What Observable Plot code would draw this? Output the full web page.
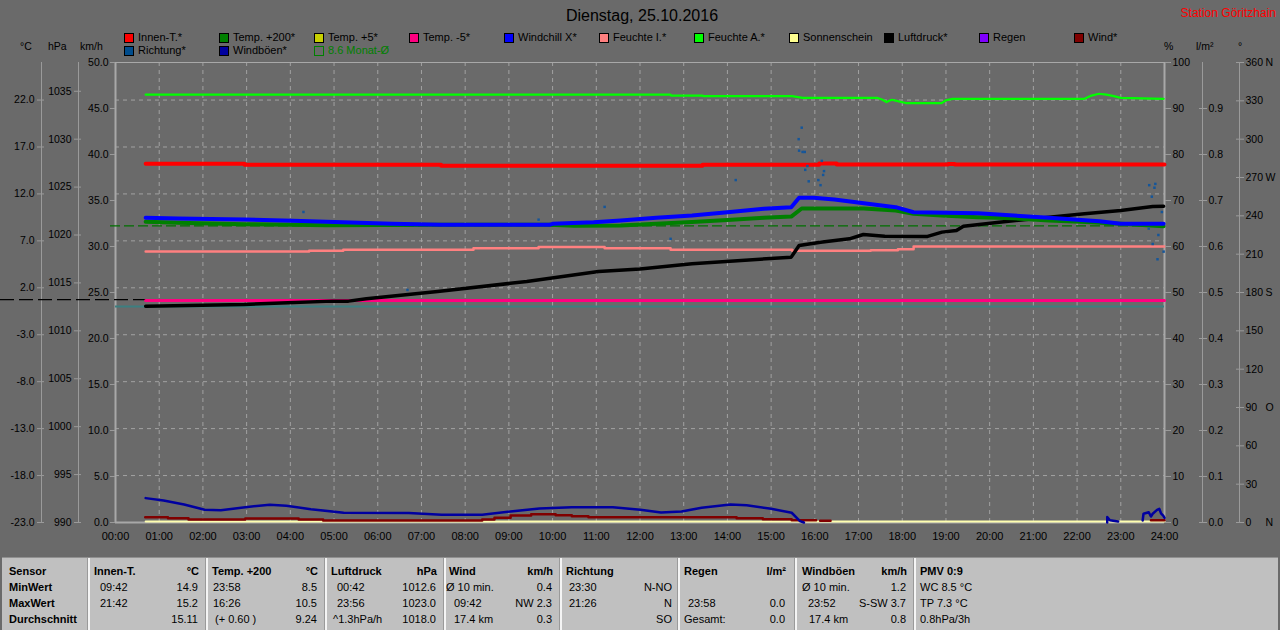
<!DOCTYPE html>
<html><head><meta charset="utf-8">
<script src="https://cdn.jsdelivr.net/npm/d3@7"></script>
<script src="https://cdn.jsdelivr.net/npm/@observablehq/plot@0.6"></script>
<style>
body{margin:0;background:#6a6a6a;font-family:"Liberation Sans",Arial,sans-serif;}
#page{position:relative;width:1280px;height:630px;overflow:hidden;background:#6a6a6a}
.abs{position:absolute;white-space:nowrap;font-size:11px;line-height:13px;color:#000}
#chart{position:absolute;left:0;top:0}
</style></head><body><div id="page"><div id="chart"></div></div>
<script>
// ---------- data (hour of day, value) ----------
const hours = d3.range(0, 25);
const innenT = [[0.69,15.21],[2.95,15.1],[7.45,15.0],[13.43,15.1],[16.1,15.24],[16.5,15.13],[19.05,15.2],[19.2,15.13],[24,15.13]];
const temp200 = [[0.69,9.03],[1.43,8.92],[2.95,8.78],[4.06,8.71],[4.82,8.67],[7.45,8.71],[9.93,8.71],[10.5,8.6],[11.56,8.64],[12.37,8.82],[13.19,9.0],[14.0,9.23],[14.83,9.46],[15.46,9.59],[15.7,10.45],[17.12,10.45],[17.85,10.23],[18.26,9.88],[18.9,9.7],[19.73,9.52],[20.55,9.4],[21.36,9.17],[22.2,9.0],[23.0,8.82],[23.98,8.56]];
const windchill = [[0.69,9.46],[1.43,9.38],[2.95,9.27],[4.06,9.14],[4.82,9.03],[5.57,8.92],[6.33,8.82],[7.45,8.71],[9.93,8.71],[10.0,8.82],[10.94,8.99],[11.56,9.17],[12.37,9.46],[13.19,9.7],[14.0,10.05],[14.83,10.41],[15.46,10.59],[15.64,11.59],[15.97,11.59],[16.45,11.41],[17.12,11.01],[17.85,10.59],[18.26,10.05],[19.73,9.95],[20.55,9.7],[21.36,9.46],[22.51,9.09],[23.0,8.82],[23.98,8.82]];
const tempMinus5 = [[0.69,0.65],[24,0.65]];
const luftdruck = [[0.69,1012.57],[2.95,1012.75],[3.94,1012.93],[4.96,1013.1],[5.33,1013.1],[5.74,1013.34],[7.37,1014.1],[9.41,1015.15],[11.05,1016.2],[12.0,1016.45],[13.19,1017.0],[15.46,1017.69],[15.64,1018.9],[16.13,1019.25],[16.79,1019.6],[17.11,1020.05],[17.6,1019.88],[18.58,1019.85],[18.91,1020.3],[19.24,1020.47],[19.4,1020.92],[20.22,1021.34],[21.36,1021.86],[22.17,1022.21],[23.0,1022.56],[23.73,1022.98],[23.98,1023.0]];
const feuchteI = [[0.69,58.9],[4.43,59.1],[5.21,59.3],[8.19,59.6],[9.68,59.9],[11.19,59.6],[12.7,59.3],[15.48,59.05],[17.28,59.2],[17.9,59.4],[18.26,60.0],[24,60.0]];
const feuchteA = [[0.69,93.0],[12.7,93.0],[12.71,92.8],[13.43,92.8],[13.44,92.7],[15.48,92.7],[15.72,92.3],[17.44,92.3],[17.55,91.9],[17.64,91.4],[17.76,91.9],[17.85,91.7],[18.1,91.15],[18.9,91.15],[19.0,91.8],[19.15,92.1],[22.17,92.1],[22.33,92.8],[22.5,93.2],[22.67,93.0],[22.84,92.7],[23.0,92.3],[23.98,92.1]];
const sonnenschein = [[0.69,0],[24,0]];
const wind = [[0.68,0.58],[1.2,0.47],[1.67,0.33],[2.97,0.44],[4.19,0.33],[4.75,0.22],[8.39,0.33],[8.67,0.51],[9.04,0.76],[9.51,0.9],[10.07,0.8],[10.44,0.69],[10.82,0.58],[14.21,0.47],[14.81,0.36],[15.47,0.25],[16.03,0.25],null,[16.12,0.2],[16.36,0.2],null,[23.69,0.25],[24,0.25]];
const windboeen = [[0.69,2.65],[1.1,2.4],[1.57,1.96],[2.04,1.38],[2.41,1.34],[2.97,1.67],[3.53,1.93],[3.91,1.82],[4.47,1.45],[5.22,1.06],[6.71,1.02],[7.46,0.84],[8.39,0.84],[9.04,1.2],[9.7,1.53],[10.44,1.67],[11.38,1.67],[12.01,1.38],[12.48,1.09],[12.95,1.2],[13.41,1.6],[14.07,1.96],[14.44,1.88],[15.0,1.49],[15.47,1.06],[15.66,0.15],[15.75,0],null,[22.69,0],[22.69,0.6],[22.75,0.25],[22.94,0.1],null,[23.5,0.22],[23.52,0.95],[23.64,1.12],[23.69,0.65],[23.73,0.95],[23.83,1.38],[23.88,1.49],[23.92,1.0],[23.97,0.76],[24,0.5]];
const richtung = [[4.3,243],[6.68,182],[9.68,237],[11.19,247],[12.7,222],[14.19,268],[15.7,309],[15.63,300],[15.64,291],[15.72,290],[15.77,290],[15.83,279],[15.78,276],[15.86,267],[16.16,283],[16.21,275],[16.19,272],[16.08,268],[16.13,264],[23.65,264],[23.79,265],[23.77,262],[23.71,255],[23.94,243],[23.64,230],[23.86,225],[23.73,218],[23.98,212],[23.84,206]];
const monatMittel = 8.6;      // °C
const normalDruck = 1013.25;  // hPa

// ---------- axis ticks ----------
const cTicks = d3.range(-23, 23, 5);
const hpaTicks = d3.range(990, 1036, 5);
const kmhTicks = d3.range(0, 51, 5);
const pctTicks = d3.range(0, 101, 10);
const rainTicks = d3.range(0, 10).map(i => i / 10);
const degTicks = d3.range(0, 361, 30);
const dirLetters = [[360,"N"],[270,"W"],[180,"S"],[90,"O"],[0,"N"]];

// ---------- legend ----------
const legendRow1 = [["Innen-T.*","#ff0000"],["Temp. +200*","#008000"],["Temp. +5*","#c8d000"],["Temp. -5*","#ff0080"],["Windchill X*","#0000ff"],["Feuchte I.*","#ff8080"],["Feuchte A.*","#00ff00"],["Sonnenschein","#ffff90"],["Luftdruck*","#000000"],["Regen","#8000ff"],["Wind*","#800000"]];
const legendRow2 = [["Richtung*","#004c8c"],["Windböen*","#0000a0"]];
const monatLabel = "8.6 Monat-Ø";

// ---------- table ----------
const tableRowLabels = ["Sensor","MinWert","MaxWert","Durchschnitt"];
const tableSeparators = [87,205,324,443,559,677,794,913];
const tableHeads = [["Innen-T.",94,"°C",199],["Temp. +200",212,"°C",318],["Luftdruck",331,"hPa",437],["Wind",449,"km/h",553],["Richtung",566,"",0],["Regen",684,"l/m²",786],["Windböen",802,"km/h",907],["PMV 0:9",920,"",0]];
const tableCells = [
 [1,"09:42",100,"l"],[1,"14.9",198,"r"],[1,"23:58",213,"l"],[1,"8.5",317,"r"],[1,"00:42",337,"l"],[1,"1012.6",436,"r"],[1,"Ø 10 min.",446,"l"],[1,"0.4",552,"r"],[1,"23:30",569,"l"],[1,"N-NO",672,"r"],[1,"Ø 10 min.",802,"l"],[1,"1.2",906,"r"],[1,"WC 8.5 °C",920,"l"],
 [2,"21:42",100,"l"],[2,"15.2",198,"r"],[2,"16:26",213,"l"],[2,"10.5",317,"r"],[2,"23:56",337,"l"],[2,"1023.0",436,"r"],[2,"09:42",454,"l"],[2,"NW 2.3",552,"r"],[2,"21:26",569,"l"],[2,"N",672,"r"],[2,"23:58",688,"l"],[2,"0.0",785,"r"],[2,"23:52",808,"l"],[2,"S-SW 3.7",906,"r"],[2,"TP 7.3 °C",920,"l"],
 [3,"15.11",198,"r"],[3,"(+ 0.60 )",215,"l"],[3,"9.24",317,"r"],[3,"^1.3hPa/h",333,"l"],[3,"1018.0",436,"r"],[3,"17.4 km",454,"l"],[3,"0.3",552,"r"],[3,"SO",672,"r"],[3,"Gesamt:",684,"l"],[3,"0.0",785,"r"],[3,"17.4 km",809,"l"],[3,"0.8",906,"r"],[3,"0.8hPa/3h",920,"l"]
];

// ---------- scales: everything mapped into the °C frame (-23 … 26) ----------
const C_MIN = -23, C_MAX = 26, SPAN = C_MAX - C_MIN;
const kmh2c = v => C_MIN + v * SPAN / 50;
const hpa2c = p => C_MIN + (p - 990) * SPAN / 48;
const pct2c = p => C_MIN + p * SPAN / 100;
const rain2c = r => C_MIN + r * SPAN / 1;
const deg2c = d => C_MIN + d * SPAN / 360;
const rows = (arr, f) => arr.map(d => d ? {x: d[0], y: f(d[1])} : {x: NaN, y: NaN});
const id = v => v;

const W = 1280, H = 556, ML = 115, MR = 116, MT = 62, MB = 34;
const pxPerHour = (W - ML - MR) / 24;
const gridC = "#a2a2a2", axisC = "#9a9a9a";
const AF = 10.5; // axis font size

const plot = Plot.plot({
  width: W, height: H, marginLeft: ML, marginRight: MR, marginTop: MT, marginBottom: MB,
  style: {background: "transparent", fontFamily: "Liberation Sans, Arial, sans-serif", fontSize: "11px", color: "#000"},
  x: {domain: [0, 24]},
  y: {domain: [C_MIN, C_MAX]},
  marks: [
    // grid
    Plot.ruleX(hours.slice(1, 24), {stroke: gridC, strokeDasharray: "4,4", strokeWidth: 1}),
    Plot.ruleY(cTicks.slice(1), {stroke: gridC, strokeDasharray: "4,4", strokeWidth: 1}),
    // outer axis lines
    Plot.ruleX([0], {dx: -74, stroke: axisC}),
    Plot.ruleX([0], {dx: -37, stroke: axisC}),
    Plot.ruleX([24], {dx: 38, stroke: axisC}),
    Plot.ruleX([24], {dx: 75, stroke: axisC}),
    // frame
    Plot.ruleY([C_MAX], {stroke: "#a8a8a8", strokeWidth: 1}),
    Plot.ruleX([0, 24], {stroke: "#a8a8a8", strokeWidth: 2}),
    Plot.ruleY([C_MIN], {stroke: "#a8a8a8", strokeWidth: 2}),
    // reference lines
    Plot.ruleY([hpa2c(normalDruck)], {x1: -ML / pxPerHour, x2: 24, stroke: "#000", strokeWidth: 1.2, strokeDasharray: "14,5"}),
    Plot.ruleY([0], {stroke: "#3c7f80", strokeWidth: 2}),
    Plot.ruleY([monatMittel], {x1: -5 / pxPerHour, x2: 24, stroke: "#007000", strokeWidth: 1.3, strokeDasharray: "10,4"}),
    // series
    Plot.line(rows(sonnenschein, kmh2c), {x: "x", y: "y", stroke: "#ffffb0", strokeWidth: 2, dy: -1}),
    Plot.line(rows(feuchteA, pct2c), {x: "x", y: "y", stroke: "#00ff00", strokeWidth: 2.2}),
    Plot.line(rows(feuchteI, pct2c), {x: "x", y: "y", stroke: "#ff8080", strokeWidth: 2.5, curve: "step-after"}),
    Plot.line(rows(tempMinus5, id), {x: "x", y: "y", stroke: "#ff0080", strokeWidth: 3}),
    Plot.line(rows(luftdruck, hpa2c), {x: "x", y: "y", stroke: "#000", strokeWidth: 3.5}),
    Plot.line(rows(temp200, id), {x: "x", y: "y", stroke: "#008000", strokeWidth: 4}),
    Plot.line(rows(windchill, id), {x: "x", y: "y", stroke: "#0000ff", strokeWidth: 4}),
    Plot.line(rows(innenT, id), {x: "x", y: "y", stroke: "#ff0000", strokeWidth: 4, curve: "step-after"}),
    Plot.line(rows(wind, kmh2c), {x: "x", y: "y", stroke: "#800000", strokeWidth: 2.5, curve: "step-after"}),
    Plot.line(rows(windboeen, kmh2c), {x: "x", y: "y", stroke: "#0000a0", strokeWidth: 2.5}),
    Plot.dot(rows(richtung, deg2c), {x: "x", y: "y", fill: "#15569a", r: 1.4, symbol: "square"}),
    // axes
    Plot.axisX(hours, {anchor: "bottom", tickSize: 0, tickPadding: 10, tickFormat: h => String(h).padStart(2, "0") + ":00", label: null, fontSize: 11}),
    Plot.axisY(cTicks, {anchor: "left", dx: -71, tickSize: 7, tickPadding: 3, tickFormat: d => d.toFixed(1), label: null, stroke: axisC, fill: "#000", fontSize: AF}),
    Plot.axisY(hpaTicks.map(hpa2c), {anchor: "left", dx: -34, tickSize: 7, tickPadding: 3, tickFormat: c => String(Math.round(990 + (c - C_MIN) * 48 / SPAN)), label: null, stroke: axisC, fill: "#000", fontSize: AF}),
    Plot.axisY(kmhTicks.map(kmh2c), {anchor: "left", tickSize: 5, tickPadding: 2, tickFormat: c => ((c - C_MIN) * 50 / SPAN).toFixed(1), label: null, stroke: axisC, fill: "#000", fontSize: AF}),
    Plot.axisY(pctTicks.map(pct2c), {anchor: "right", tickSize: 6, tickPadding: 2, tickFormat: c => String(Math.round((c - C_MIN) * 100 / SPAN)), label: null, stroke: axisC, fill: "#000", fontSize: AF}),
    Plot.axisY(rainTicks.map(rain2c), {anchor: "right", dx: 34, tickSize: 8, tickPadding: 2, tickFormat: c => ((c - C_MIN) / SPAN).toFixed(1), label: null, stroke: axisC, fill: "#000", fontSize: AF}),
    Plot.axisY(degTicks.map(deg2c), {anchor: "right", dx: 71, tickSize: 8, tickPadding: 2, tickFormat: c => String(Math.round((c - C_MIN) * 360 / SPAN)), label: null, stroke: axisC, fill: "#000", fontSize: AF}),
    Plot.text(dirLetters, {x: () => 24, y: d => deg2c(d[0]), text: d => d[1], dx: 101, textAnchor: "start", fill: "#000", fontSize: AF})
  ]
});
document.getElementById("chart").appendChild(plot);

// ---------- HTML overlays ----------
const page = document.getElementById("page");
function put(text, x, y, opts = {}) {
  const s = document.createElement("div");
  s.className = "abs";
  s.textContent = text;
  if (opts.right) s.style.right = (1280 - x) + "px"; else if (opts.center) { s.style.left = (x - 300) + "px"; s.style.width = "600px"; s.style.textAlign = "center"; } else s.style.left = x + "px";
  s.style.top = (y - 7) + "px";
  if (opts.size) { s.style.fontSize = opts.size + "px"; s.style.lineHeight = (opts.size + 3) + "px"; s.style.top = (y - (opts.size + 3) / 2) + "px"; }
  if (opts.color) s.style.color = opts.color;
  if (opts.bold) s.style.fontWeight = "bold";
  page.appendChild(s);
  return s;
}
put("Dienstag, 25.10.2016", 642, 15, {center: true, size: 16});
put("Station Göritzhain", 1276, 13, {right: true, size: 12, color: "#ff0000"});
// unit headers
put("°C", 20, 47, {size: AF}); put("hPa", 48, 47, {size: AF}); put("km/h", 80, 47, {size: AF});
put("%", 1164, 47, {size: AF}); put("l/m²", 1196, 47, {size: AF}); put("°", 1238, 47, {size: AF});
// legend
function legendItem(label, color, x, y, outline) {
  const b = document.createElement("div");
  b.style.cssText = `position:absolute;left:${x}px;top:${y - 5}px;width:8px;height:8px;border:1px solid ${outline ? color : "#000"};background:${outline ? "transparent" : color}`;
  page.appendChild(b);
  put(label, x + 14, y, outline ? {color} : {});
}
legendRow1.forEach((d, i) => legendItem(d[0], d[1], 124 + i * 95, 38));
legendRow2.forEach((d, i) => legendItem(d[0], d[1], 124 + i * 95, 51));
legendItem(monatLabel, "#008000", 124 + 2 * 95, 51, true);

// table
const tb = document.createElement("div");
tb.style.cssText = "position:absolute;left:2px;top:557px;width:1276px;height:73px;background:#c0c0c0;border-top:1px solid #909090";
page.appendChild(tb);
tableSeparators.forEach(x => {
  const l = document.createElement("div");
  l.style.cssText = `position:absolute;left:${x}px;top:558px;width:2px;height:72px;background:#f4f4f4;border-left:1px solid #9a9a9a`;
  page.appendChild(l);
});
const rowY = [572, 588, 604, 620];
tableRowLabels.forEach((t, i) => put(t, 9, rowY[i], {bold: true}));
tableHeads.forEach(h => { put(h[0], h[1], rowY[0], {bold: true}); if (h[2]) put(h[2], h[3], rowY[0], {bold: true, right: true}); });
tableCells.forEach(c => put(c[1], c[2], rowY[c[0]], c[3] === "r" ? {right: true} : {}));
</script>
</body></html>
